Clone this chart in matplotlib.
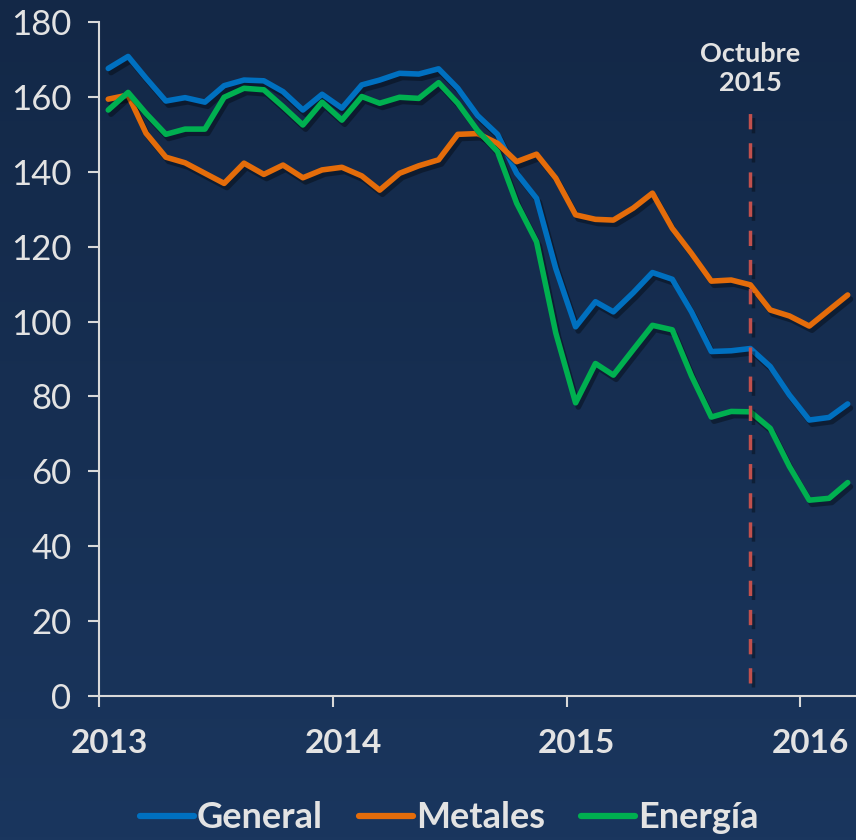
import numpy as np
import pandas as pd
import matplotlib
matplotlib.use("Agg")
import matplotlib.pyplot as plt
import matplotlib.patheffects as pe
import matplotlib.transforms as mtransforms
from matplotlib.colors import LinearSegmentedColormap

# monthly index values, Jan 2013 .. Mar 2016
start_month = "2013-01"
general = [167.6, 170.8, 165.0, 158.9, 159.8, 158.6, 163.0, 164.5, 164.3, 161.4,
           156.5, 160.7, 157.0, 163.2, 164.5, 166.3, 166.1, 167.5, 162.3, 155.0,
           150.0, 139.6, 132.9, 114.2, 98.6, 105.3, 102.6, 107.7, 113.1, 111.3,
           102.6, 92.0, 92.2, 92.8, 88.0, 80.4, 73.7, 74.4, 78.0]
metales = [159.4, 160.5, 150.3, 143.9, 142.4, 139.6, 136.9, 142.3, 139.3, 141.8,
           138.4, 140.5, 141.2, 138.9, 135.1, 139.6, 141.6, 143.2, 150.0, 150.2,
           147.6, 142.7, 144.7, 138.3, 128.5, 127.3, 127.1, 130.3, 134.3, 124.9,
           118.2, 110.8, 111.1, 109.8, 103.1, 101.5, 98.8, 103.1, 107.1]
energia = [156.5, 161.2, 155.6, 150.0, 151.4, 151.4, 159.9, 162.3, 161.9, 157.4,
           152.5, 158.6, 153.8, 160.1, 158.3, 159.9, 159.6, 163.8, 158.3, 151.0,
           145.4, 131.6, 121.3, 97.0, 78.3, 88.8, 85.7, 92.5, 99.0, 97.8,
           85.5, 74.5, 76.0, 75.9, 71.5, 61.3, 52.3, 52.8, 57.0]
series_names = ["General", "Metales", "Energía"]
series_colors = ["#0070C0", "#E46C0A", "#00B050"]
year_ticks = ["2013", "2014", "2015", "2016"]
marker_month = "2015-10-15"
marker_label = "Octubre\n2015"

plt.rcParams['font.family'] = ['Lato', 'DejaVu Sans']
txt_color = "#E3E3E3"

dates = pd.date_range(start_month, periods=len(general), freq="MS") + pd.Timedelta(days=14)

fig = plt.figure(figsize=(8.56, 8.40), dpi=100)

# background gradient
bg = fig.add_axes([0, 0, 1, 1], zorder=-10)
cmap = LinearSegmentedColormap.from_list("bg", ["#132847", "#1a365e"])
grad = np.linspace(0, 1, 256).reshape(-1, 1)
bg.imshow(grad, aspect="auto", cmap=cmap, extent=[0, 1, 0, 1], origin="upper")
bg.axis("off")

ax = fig.add_axes([0.116, 0.1714, 0.884, 0.8024])
ax.set_facecolor("none")

shadow = [pe.SimpleLineShadow(offset=(2, -3), shadow_color="black", alpha=0.35),
          pe.Normal()]
for name, vals, col in zip(series_names, [general, metales, energia], series_colors):
    ax.plot(dates, vals, color=col, lw=4.0, label=name,
            solid_joinstyle="round", solid_capstyle="round",
            path_effects=shadow, clip_on=False)

ax.vlines(pd.Timestamp(marker_month), 3.5, 157, color="#C0504D", lw=2.5,
          linestyles=[(0, (4.4, 4.0))], path_effects=shadow)
ax.text(pd.Timestamp(marker_month), 167.5, marker_label, ha="center", va="center",
        fontsize=19.5, fontweight="bold", color=txt_color, linespacing=1.25)

ax.set_ylim(0, 180)
ax.set_yticks(range(0, 181, 20))
ax.set_xlim(pd.Timestamp("2013-01-01"), pd.Timestamp("2016-03-28"))
ax.set_xticks([pd.Timestamp(y + "-01-01") for y in year_ticks])
ax.set_xticklabels(year_ticks, fontweight="bold")

for s in ["top", "right"]:
    ax.spines[s].set_visible(False)
for s in ["left", "bottom"]:
    ax.spines[s].set_color("#D9D9D9")
    ax.spines[s].set_linewidth(1.5)

ax.tick_params(axis="y", colors="#D9D9D9", labelcolor=txt_color, labelsize=25,
               length=8, width=1.5, pad=12)
ax.tick_params(axis="x", colors="#D9D9D9", labelcolor=txt_color, labelsize=24,
               length=8, width=1.5, pad=16)

# year labels sit a bit right of their tick in the original
shift = mtransforms.ScaledTranslation(10 / 100, 0, fig.dpi_scale_trans)
for lbl in ax.get_xticklabels():
    lbl.set_transform(lbl.get_transform() + shift)

leg = fig.legend(loc="lower center", bbox_to_anchor=(0.525, -0.032), ncol=3,
                 frameon=False, handlelength=1.5, handletextpad=0.08,
                 columnspacing=1.0, prop={"weight": "bold", "size": 26})
for t in leg.get_texts():
    t.set_color(txt_color)
for h in leg.legend_handles:
    h.set_linewidth(4.5)
    h.set_path_effects([])

fig.savefig("out.png", dpi=100)
